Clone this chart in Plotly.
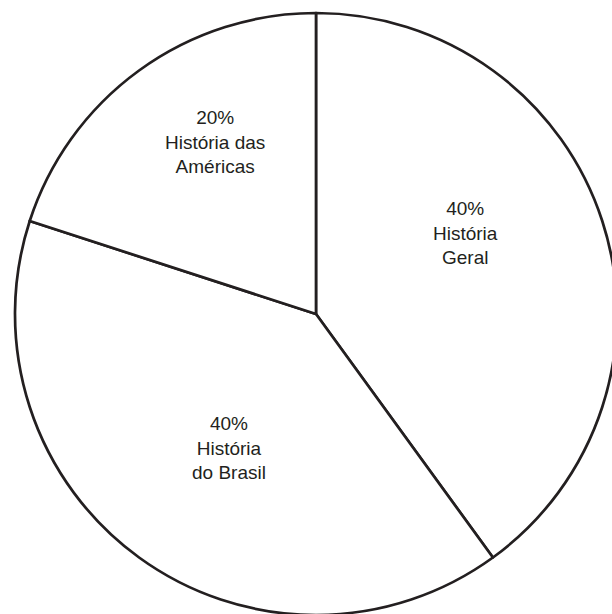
import plotly.graph_objects as go

# ---- data ----
categories = ["História Geral", "História do Brasil", "História das Américas"]
values = [40, 40, 20]
label_texts = ["40%<br>História<br>Geral", "40%<br>História<br>do Brasil", "20%<br>História das<br>Américas"]

# ---- layout constants (pixels) ----
W, H = 632, 630
CX, CY, R = 316, 314, 301
# label centres in pixels
label_px = [(465, 232.5), (228.5, 447.5), (215, 142.5)]
INK = "#231f20"

dom_x = [(CX - R) / W, (CX + R) / W]
dom_y = [1 - (CY + R) / H, 1 - (CY - R) / H]

fig = go.Figure(go.Pie(
    labels=categories,
    values=values,
    sort=False,
    direction="clockwise",
    rotation=0,
    textinfo="none",
    hoverinfo="label+percent",
    marker=dict(colors=["white"] * len(values), line=dict(color=INK, width=2.7)),
    domain=dict(x=dom_x, y=dom_y),
    showlegend=False,
))

for txt, (px, py) in zip(label_texts, label_px):
    fig.add_annotation(
        x=px / W, y=1 - py / H, xref="paper", yref="paper",
        text=txt, showarrow=False, xanchor="center", yanchor="middle",
        font=dict(family="Liberation Sans, Arial, sans-serif", size=19, color=INK),
        align="center",
    )

fig.update_layout(
    width=W, height=H,
    margin=dict(l=0, r=0, t=0, b=0),
    paper_bgcolor="white",
    plot_bgcolor="white",
)

fig.write_html(
    "out.html",
    post_script="document.documentElement.style.overflow='hidden';document.body.style.overflow='hidden';document.body.style.margin='0';",
)
